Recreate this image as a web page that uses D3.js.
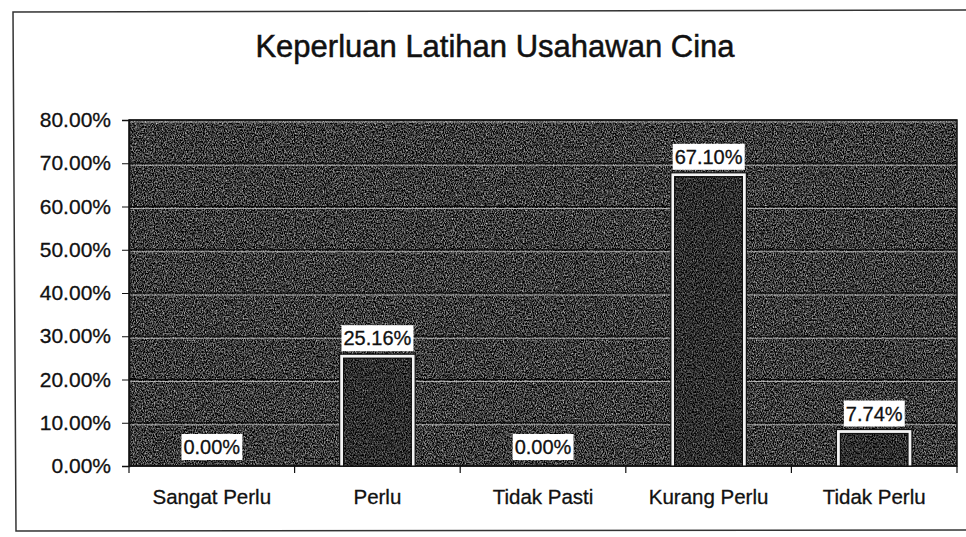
<!DOCTYPE html>
<html>
<head>
<meta charset="utf-8">
<script src="https://cdn.jsdelivr.net/npm/d3@7"></script>
<style>
  html, body { margin: 0; padding: 0; background: #fff; }
  svg { display: block; font-family: "Liberation Sans", Arial, sans-serif; }
</style>
</head>
<body>
<svg id="chart" width="966" height="537"></svg>
<script>
// chart data
const title = "Keperluan Latihan Usahawan Cina";
const categories = ["Sangat Perlu", "Perlu", "Tidak Pasti", "Kurang Perlu", "Tidak Perlu"];
const values = [0.00, 25.16, 0.00, 67.10, 7.74];   // percent
const yTicks = [0, 10, 20, 30, 40, 50, 60, 70, 80];

const W = 966, H = 537;
const plot = { left: 129, right: 957, top: 120, bottom: 466 };

const svg = d3.select("#chart");

// grainy scan look for the dark fills
const defs = svg.append("defs");
function grain(id, k, c) {
  const f = defs.append("filter").attr("id", id)
    .attr("x", 0).attr("y", 0).attr("width", 1).attr("height", 1)
    .attr("color-interpolation-filters", "sRGB");
  f.append("feTurbulence").attr("type", "fractalNoise")
    .attr("baseFrequency", "0.9 0.6").attr("numOctaves", 2).attr("seed", 7);
  f.append("feColorMatrix").attr("type", "matrix")
    .attr("values", `${k} 0 0 0 ${c}  ${k} 0 0 0 ${c}  ${k} 0 0 0 ${c}  0 0 0 0 1`);
}
grain("grainBg", 1.4, -0.47);
grain("grainBar", 1.0, -0.32);

const x = d3.scaleBand()
  .domain(categories)
  .range([plot.left, plot.right])
  .paddingInner(0.58)
  .paddingOuter(0.29);

const y = d3.scaleLinear()
  .domain([0, 80])
  .range([plot.bottom, plot.top]);

// outer chart frame (scanned page border)
svg.append("path")
  .attr("d", `M${W + 2},10 L13,12 L16,${H - 6} L${W + 2},${H - 7}`)
  .attr("fill", "none").attr("stroke", "#333").attr("stroke-width", 1.5);

// title
svg.append("text")
  .attr("x", 495).attr("y", 57)
  .attr("text-anchor", "middle")
  .attr("font-size", 31)
  .attr("fill", "#111").attr("stroke", "#111").attr("stroke-width", 0.5)
  .text(title);

// plot area
svg.append("rect")
  .attr("x", plot.left).attr("y", plot.top)
  .attr("width", plot.right - plot.left).attr("height", plot.bottom - plot.top)
  .attr("fill", "#3f3f3f")
  .attr("filter", "url(#grainBg)");

// gridlines: dark line with a light line just under it
const grid = svg.append("g");
yTicks.slice(1).forEach(t => {
  grid.append("line")
    .attr("x1", plot.left).attr("x2", plot.right)
    .attr("y1", y(t)).attr("y2", y(t))
    .attr("stroke", "#0a0a0a").attr("stroke-width", 1.2);
  grid.append("line")
    .attr("x1", plot.left).attr("x2", plot.right)
    .attr("y1", y(t) + 2).attr("y2", y(t) + 2)
    .attr("stroke", "#d8d8d8").attr("stroke-width", 1).attr("opacity", 0.7);
});

svg.append("rect")
  .attr("x", plot.left).attr("y", plot.top)
  .attr("width", plot.right - plot.left).attr("height", plot.bottom - plot.top)
  .attr("fill", "none").attr("stroke", "#111").attr("stroke-width", 1.5);

// y axis
const yAxis = svg.append("g")
  .attr("transform", `translate(${plot.left},0)`)
  .call(d3.axisLeft(y).tickValues(yTicks).tickSize(7).tickPadding(11)
    .tickFormat(d => d.toFixed(2) + "%"));
yAxis.select(".domain").attr("stroke", "#111").attr("stroke-width", 1.5);
yAxis.selectAll(".tick line").attr("stroke", "#111");
yAxis.selectAll(".tick text")
  .attr("font-size", 21).attr("fill", "#111")
  .attr("stroke", "#111").attr("stroke-width", 0.3)
  .attr("font-family", "Liberation Sans, Arial, sans-serif");

// x axis: ticks sit on category boundaries
const step = x.step();
const boundaries = d3.range(categories.length + 1).map(i => plot.left + i * step);
svg.append("line")
  .attr("x1", plot.left).attr("x2", plot.right)
  .attr("y1", plot.bottom).attr("y2", plot.bottom)
  .attr("stroke", "#111").attr("stroke-width", 1.5);
svg.append("g").selectAll("line")
  .data(boundaries)
  .join("line")
  .attr("x1", d => d).attr("x2", d => d)
  .attr("y1", plot.bottom).attr("y2", plot.bottom + 7)
  .attr("stroke", "#111").attr("stroke-width", 1.2);

svg.append("g").selectAll("text")
  .data(categories)
  .join("text")
  .attr("x", d => x(d) + x.bandwidth() / 2)
  .attr("y", 504)
  .attr("text-anchor", "middle")
  .attr("font-size", 20.5)
  .attr("fill", "#111").attr("stroke", "#111").attr("stroke-width", 0.3)
  .text(d => d);

// bars: dark fill with a white double outline
const bars = svg.append("g").selectAll("g")
  .data(categories.map((c, i) => ({ c, v: values[i] })))
  .join("g");

bars.filter(d => d.v > 0).append("rect")
  .attr("x", d => x(d.c) - 3)
  .attr("y", d => y(d.v) - 3)
  .attr("width", x.bandwidth() + 6)
  .attr("height", d => plot.bottom - y(d.v) + 3)
  .attr("fill", "#f4f4f4")
  .attr("stroke", "#111").attr("stroke-width", 1.2);

bars.filter(d => d.v > 0).append("rect")
  .attr("x", d => x(d.c) + 1)
  .attr("y", d => y(d.v) + 1)
  .attr("width", x.bandwidth() - 2)
  .attr("height", d => plot.bottom - y(d.v) - 1)
  .attr("fill", "#2e2e2e")
  .attr("filter", "url(#grainBar)");

bars.filter(d => d.v > 0).append("rect")
  .attr("x", d => x(d.c) + 1)
  .attr("y", d => y(d.v) + 1)
  .attr("width", x.bandwidth() - 2)
  .attr("height", d => plot.bottom - y(d.v) - 1)
  .attr("fill", "none")
  .attr("stroke", "#111").attr("stroke-width", 1.2);

// value labels in white boxes
const labels = bars.append("g");
labels.append("text")
  .attr("x", d => x(d.c) + x.bandwidth() / 2)
  .attr("y", d => y(d.v) - 12)
  .attr("text-anchor", "middle")
  .attr("font-size", 20)
  .attr("fill", "#111").attr("stroke", "#111").attr("stroke-width", 0.3)
  .text(d => d.v.toFixed(2) + "%");

labels.each(function () {
  const g = d3.select(this);
  const b = g.select("text").node().getBBox();
  g.insert("rect", "text")
    .attr("x", b.x - 2).attr("y", b.y - 2)
    .attr("width", b.width + 4).attr("height", b.height + 4)
    .attr("fill", "#fff");
});
</script>
</body>
</html>
